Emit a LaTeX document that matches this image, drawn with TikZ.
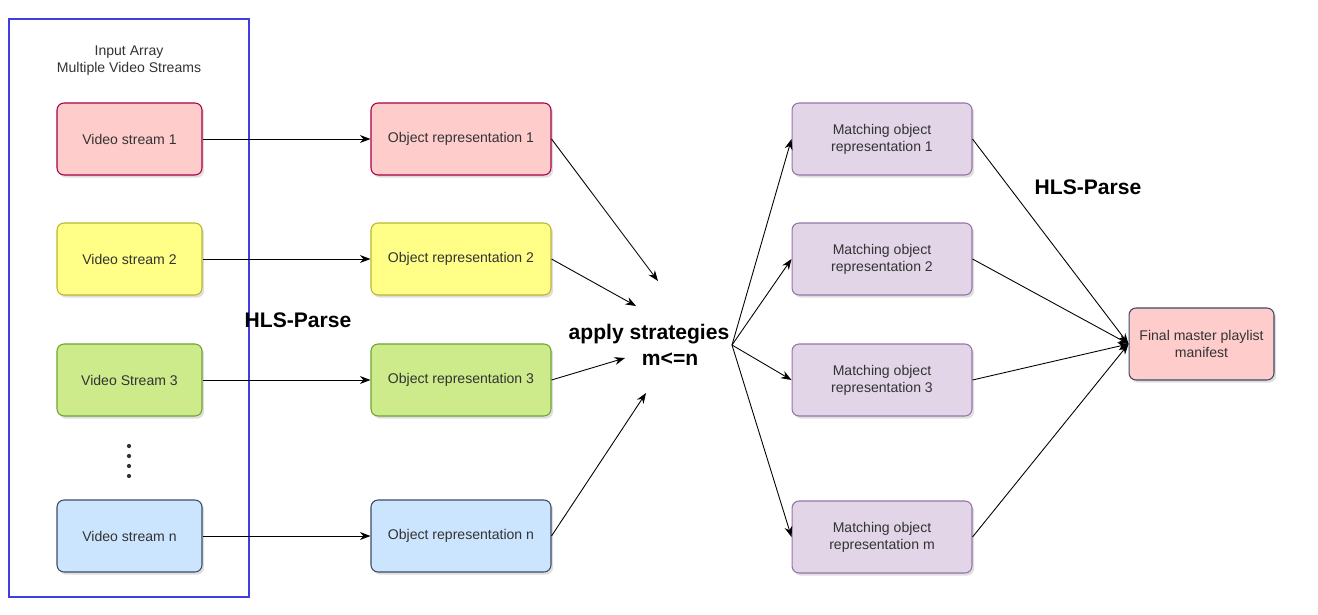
\documentclass[tikz,border=0pt]{standalone}
\usepackage{fontspec}
\setmainfont{Liberation Sans}
\usetikzlibrary{arrows.meta,shadows}
\definecolor{redfill}{HTML}{FFCCCC}
\definecolor{reddraw}{HTML}{A50040}
\definecolor{yelfill}{HTML}{FFFF88}
\definecolor{yeldraw}{HTML}{B8B82E}
\definecolor{grnfill}{HTML}{CDEB8B}
\definecolor{grndraw}{HTML}{6FA32E}
\definecolor{blufill}{HTML}{CCE5FF}
\definecolor{bludraw}{HTML}{3D4A66}
\definecolor{prpfill}{HTML}{E1D5E7}
\definecolor{prpdraw}{HTML}{9673A6}
\definecolor{inputblue}{HTML}{3F3FDF}

\begin{document}
\begin{tikzpicture}[x=0.02cm,y=-0.02cm,
  every node/.style={font=\fontsize{8}{9.6}\selectfont, text=black!80},
  box/.style={draw, rounded corners=4pt, line width=0.6pt, align=center,
    minimum height=1.44cm, drop shadow={opacity=0.25, shadow xshift=1.2pt, shadow yshift=-1.5pt}},
  conn/.style={-{Stealth[length=6pt,width=4.5pt]}, line width=0.5pt},
  bigtxt/.style={font=\fontsize{12}{12.5}\selectfont\bfseries, text=black, align=center}]
\useasboundingbox (0,0) rectangle (1318,615);

% input container
\node[draw=inputblue, line width=0.8pt, minimum width=4.8cm, minimum height=11.56cm, inner sep=0pt] (inputarray) at (129,308) {};
\node[align=center] (title) at (129,61) {Input Array\\Multiple Video Streams};

% streams and object representations
\foreach \row/\ypos/\lbl/\fcol/\dcol in {%
  1/139/{Video stream 1}/redfill/reddraw,%
  2/259/{Video stream 2}/yelfill/yeldraw,%
  3/380/{Video Stream 3}/grnfill/grndraw,%
  n/536/{Video stream n}/blufill/bludraw%
} {
  \node[box, fill=\fcol, draw=\dcol, minimum width=2.9cm] (vs\row) at (129.5,\ypos) {\lbl};
  \node[box, fill=\fcol, draw=\dcol, minimum width=3.6cm] (obj\row) at (461,\ypos) {Object representation \row};
  \draw[conn] (vs\row) -- (obj\row);
}
\foreach \d in {446,456,466,476}
  \fill[black!80] (129,\d) circle (1.2pt);

\node[bigtxt] (parse1) at (298,320) {HLS-Parse};
\node[bigtxt, font=\fontsize{12}{14.5}\selectfont\bfseries] (apply) at (649,345) {apply strategies\\\hspace*{2em}m<=n};

% into the strategy step
\coordinate (in1) at (658,281);
\coordinate (in2) at (636,306);
\coordinate (in3) at (625,358);
\coordinate (inn) at (646,393);
\foreach \row in {1,2,3,n}
  \draw[conn] (obj\row.east) -- (in\row);

% matching objects
\coordinate (split) at (732,345);
\node[box, fill=redfill, draw=bludraw, minimum width=2.9cm] (final) at (1201.5,344) {Final master playlist\\manifest};
\foreach \row/\ypos in {1/139,2/259,3/380,m/537} {
  \node[box, fill=prpfill, draw=prpdraw, minimum width=3.6cm] (match\row) at (882,\ypos) {Matching object\\representation \row};
  \draw[conn] (split) -- (match\row.west);
  \draw[conn] (match\row.east) -- (final.west);
}
\node[bigtxt] (parse2) at (1088,187) {HLS-Parse};
\end{tikzpicture}
\end{document}
